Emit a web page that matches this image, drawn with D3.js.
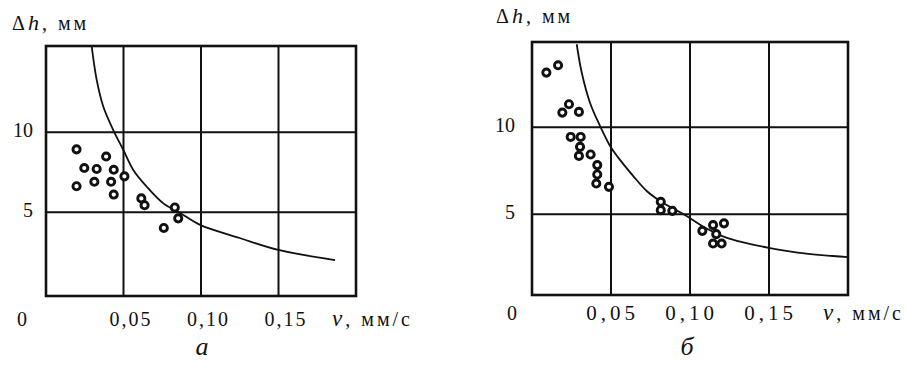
<!DOCTYPE html>
<html><head><meta charset="utf-8">
<script src="https://cdn.jsdelivr.net/npm/d3@7"></script>
<style>body{margin:0;background:#fff;}</style></head>
<body><svg id="c" width="906" height="369"></svg>
<script>
// ---- data ----
const xTicks = [0.05, 0.10, 0.15];
const xTickLabels = ["0,05", "0,10", "0,15"];
const yTicks = [5, 10];
const yTickLabels = ["5", "10"];

// panel a: scatter
const aV = [0.0197,0.0388,0.0247,0.0327,0.0437,0.0506,0.0197,0.0312,0.0420,0.0437,0.0615,0.0636,0.0831,0.0853,0.0760];
const aH = [8.93,8.48,7.76,7.70,7.65,7.24,6.62,6.90,6.90,6.10,5.86,5.43,5.29,4.61,4.01];
// panel a: curve
const aCurveV = [0.0295,0.0327,0.037,0.0434,0.0499,0.0563,0.065,0.0757,0.0865,0.0994,0.125,0.150,0.1865];
const aCurveH = [15.36,13.28,11.6,10.14,8.89,7.64,6.59,5.55,4.95,4.2,3.38,2.63,2.0];

// panel б: scatter
const bV = [0.0091,0.0165,0.0192,0.0234,0.0297,0.0245,0.0308,0.0304,0.0297,0.0371,0.0413,0.0413,0.0407,0.0487,0.0815,0.0815,0.0888,0.1078,0.1146,0.1215,0.1166,0.1146,0.1200];
const bH = [13.14,13.56,10.84,11.32,10.88,9.44,9.44,8.87,8.35,8.43,7.82,7.28,6.76,6.57,5.71,5.23,5.19,4.04,4.37,4.47,3.85,3.31,3.31];
// panel б: curve
const bCurveV = [0.0283,0.0315,0.0367,0.043,0.0494,0.0546,0.0641,0.0726,0.081,0.0968,0.108,0.123,0.1506,0.175,0.200];
const bCurveH = [14.77,13.13,11.41,10.08,8.92,8.25,7.19,6.33,5.76,4.95,4.3,3.65,3.05,2.72,2.53];

// ---- layout ----
const panels = [
  {v:aV,h:aH,cv:aCurveV,ch:aCurveH, x0:46,x1:356, yTop:46,yBot:296, yd:[-0.25,15.4],
   yLabX:33, xLabY:321, xLabDx:7, zeroX:22, zeroY:321, titleX:12, titleY:30, unitX:332,
   letter:"a", letterX:202, letterY:355, fs:20, ls:2, yfs:20},
  {v:bV,h:bH,cv:bCurveV,ch:bCurveH, x0:532,x1:848, yTop:42,yBot:295, yd:[0.35,14.9],
   yLabX:515, xLabY:315, xLabDx:1, zeroX:512, zeroY:315, titleX:496, titleY:23, unitX:823,
   letter:"б", letterX:687, letterY:355, fs:21, ls:4, yfs:20}
];

const svg = d3.select("#c");
const FONT = '"Liberation Serif"';

panels.forEach(p => {
  const x = d3.scaleLinear().domain([0,0.2]).range([p.x0,p.x1]);
  const y = d3.scaleLinear().domain(p.yd).range([p.yBot,p.yTop]);
  const g = svg.append("g");

  // grid lines
  g.selectAll("line.vx").data(xTicks).join("line")
    .attr("x1",d=>x(d)).attr("x2",d=>x(d)).attr("y1",p.yTop).attr("y2",p.yBot)
    .attr("stroke","#111").attr("stroke-width",2);
  g.selectAll("line.hy").data(yTicks).join("line")
    .attr("x1",p.x0).attr("x2",p.x1).attr("y1",d=>y(d)).attr("y2",d=>y(d))
    .attr("stroke","#111").attr("stroke-width",2);
  // frame
  g.append("rect").attr("x",p.x0).attr("y",p.yTop).attr("width",p.x1-p.x0).attr("height",p.yBot-p.yTop)
    .attr("fill","none").attr("stroke","#111").attr("stroke-width",2.6);

  // curve
  const pts = p.cv.map((v,i)=>[v,p.ch[i]]);
  g.append("path").datum(pts)
    .attr("d", d3.line().x(d=>x(d[0])).y(d=>y(d[1])).curve(d3.curveCatmullRom.alpha(0.5)))
    .attr("fill","none").attr("stroke","#111").attr("stroke-width",1.8);

  // scatter
  const sp = p.v.map((v,i)=>[v,p.h[i]]);
  g.selectAll("circle").data(sp).join("circle")
    .attr("cx",d=>x(d[0])).attr("cy",d=>y(d[1])).attr("r",3.6)
    .attr("fill","#fff").attr("stroke","#111").attr("stroke-width",2.9);

  // x tick labels via axis
  const xa = g.append("g").attr("transform",`translate(${p.xLabDx},${p.xLabY})`)
    .call(d3.axisBottom(x).tickValues(xTicks).tickSize(0).tickPadding(0).tickFormat((d,i)=>xTickLabels[i]));
  xa.select(".domain").remove();
  xa.selectAll("text").attr("dy",0).attr("y",0).attr("dominant-baseline","middle")
    .style("font-family",FONT).style("font-size",p.fs+"px").style("letter-spacing",p.ls+"px").attr("fill","#111");

  // y tick labels via axis
  const ya = g.append("g").attr("transform",`translate(${p.yLabX},0)`)
    .call(d3.axisLeft(y).tickValues(yTicks).tickSize(0).tickPadding(0).tickFormat((d,i)=>yTickLabels[i]));
  ya.select(".domain").remove();
  ya.selectAll("text").attr("dy",0).attr("dominant-baseline","middle")
    .style("font-family",FONT).style("font-size",p.yfs+"px").attr("fill","#111");

  // origin label
  g.append("text").attr("x",p.zeroX).attr("y",p.zeroY).attr("text-anchor","middle")
    .attr("dominant-baseline","middle").style("font-family",FONT).style("font-size",p.yfs+"px")
    .attr("fill","#111").text("0");

  // y title
  const t = g.append("text").attr("x",p.titleX).attr("y",p.titleY).attr("fill","#111")
    .style("font-family",FONT).style("font-size","20px").style("letter-spacing","3px");
  t.append("tspan").text("Δ");
  t.append("tspan").style("font-style","italic").style("font-size","22px").text("h");
  t.append("tspan").text(", мм");

  // x title
  const u = g.append("text").attr("x",p.unitX).attr("y",p.xLabY).attr("dominant-baseline","middle").attr("fill","#111")
    .style("font-family",FONT).style("font-size","20px").style("letter-spacing","3px");
  u.append("tspan").style("font-style","italic").style("font-size","23px").text("v");
  u.append("tspan").text(", мм/с");

  // panel letter
  g.append("text").attr("x",p.letterX).attr("y",p.letterY).attr("text-anchor","middle").attr("fill","#111")
    .style("font-family",FONT).style("font-size","26px").style("font-style","italic").text(p.letter);
});
</script></body></html>
